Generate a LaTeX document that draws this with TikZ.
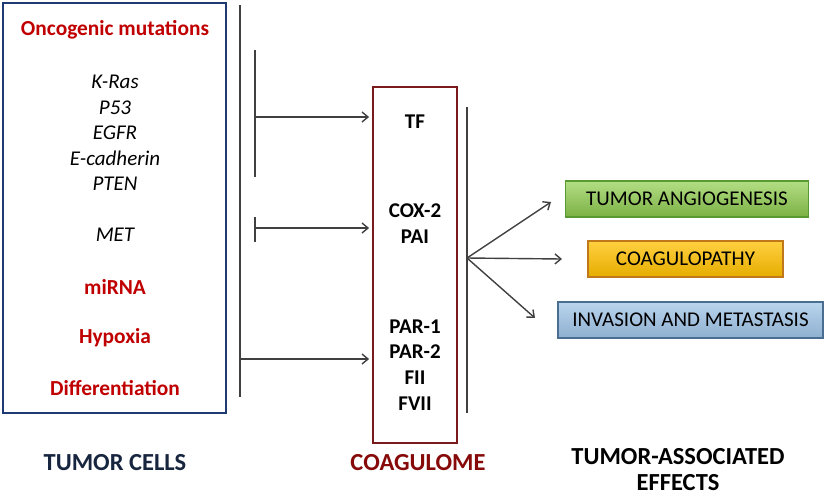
\documentclass[tikz,border=0pt]{standalone}
\usepackage{fontspec}
\setmainfont{Carlito}
\usetikzlibrary{arrows.meta}
\definecolor{darkred}{HTML}{C00000}
\definecolor{navy}{HTML}{1F3A73}
\definecolor{navytext}{HTML}{17253F}
\definecolor{coagred}{HTML}{7B1A1A}
\definecolor{coagtext}{HTML}{860A0A}
\definecolor{linegray}{HTML}{404040}
\definecolor{greenfill}{HTML}{92D050}
\definecolor{greenedge}{HTML}{5A9A32}
\definecolor{yellowfill}{HTML}{FFC000}
\definecolor{yellowedge}{HTML}{C0781A}
\definecolor{bluefill}{HTML}{9DC3E6}
\definecolor{blueedge}{HTML}{4A6E92}
\tikzset{
  redlbl/.style={text=darkred, font=\fontsize{21.4}{24}\selectfont\bfseries},
  genelbl/.style={font=\fontsize{21}{24}\selectfont\itshape},
  coaglbl/.style={font=\fontsize{21}{25.7}\selectfont\bfseries, align=center},
  conn/.style={draw=linegray, line width=1.4pt},
  arr/.style={conn, -{Straight Barb[length=6pt,width=10pt,line width=1.4pt]}},
  effbox/.style={draw, line width=1.6pt, font=\fontsize{21}{24}\selectfont, inner sep=0pt},
  titlelbl/.style={font=\fontsize{24.5}{26}\selectfont\bfseries, align=center}
}
\begin{document}
\begin{tikzpicture}[x=1pt,y=-1pt]
\useasboundingbox (0,0) rectangle (829,499);
% left box
\node[draw=navy, line width=2pt, minimum width=223pt, minimum height=410pt, inner sep=0pt] (tumorbox) at (114.5,208) {};
\node[redlbl] (onco) at (115,30) {Oncogenic mutations};
\node[genelbl] (kras) at (115,82) {K-Ras};
\node[genelbl] (p53) at (115,107.5) {P53};
\node[genelbl] (egfr) at (115,133) {EGFR};
\node[genelbl] (ecad) at (115,158.5) {E-cadherin};
\node[genelbl] (pten) at (115,184) {PTEN};
\node[genelbl] (met) at (115,235) {MET};
\node[redlbl] (mirna) at (115,287) {miRNA};
\node[redlbl] (hypoxia) at (115,338) {Hypoxia};
\node[redlbl] (diff) at (115,388) {Differentiation};
\node[titlelbl, text=navytext] (tumorcells) at (115,462.5) {TUMOR CELLS};
% coagulome box
\node[draw=coagred, line width=1.8pt, minimum width=84pt, minimum height=356pt, inner sep=0pt] (coag) at (415,265) {};
\node[coaglbl] (tf) at (415,122) {TF};
\node[coaglbl] (cox) at (415,223.5) {COX-2\\PAI};
\node[coaglbl] (par) at (415,365) {PAR-1\\PAR-2\\FII\\FVII};
\node[titlelbl, text=coagtext] (coaglabel) at (418,463) {COAGULOME};
% main vertical line
\coordinate (v1top) at (240,5);
\coordinate (v1bot) at (240,397);
\draw[conn] (v1top) -- (v1bot);
% bar 1
\coordinate (b1top) at (255,50);
\coordinate (b1bot) at (255,177);
\coordinate (b1mid) at (255,117);
\draw[conn] (b1top) -- (b1bot);
\draw[arr, shorten >=3pt] (b1mid) -- (coag.west |- b1mid);
% bar 2
\coordinate (b2top) at (255,217);
\coordinate (b2bot) at (255,242);
\coordinate (b2mid) at (255,228);
\draw[conn] (b2top) -- (b2bot);
\draw[arr, shorten >=3pt] (b2mid) -- (coag.west |- b2mid);
% lower arrow
\coordinate (v1mid) at (240,359);
\draw[arr, shorten >=3pt] (v1mid) -- (coag.west |- v1mid);
% right vertical
\coordinate (v2top) at (467,107);
\coordinate (v2bot) at (467,413);
\draw[conn] (v2top) -- (v2bot);
\coordinate (hub) at (467,258);
% effect boxes
\node[effbox, draw=greenedge, top color=greenfill!70!white, bottom color=greenfill!85!black, minimum width=243pt, minimum height=36pt] (angio) at (687,199) {TUMOR ANGIOGENESIS};
\node[effbox, draw=yellowedge, top color=yellowfill!75!white, bottom color=yellowfill!90!black, minimum width=195pt, minimum height=36pt] (coagpathy) at (685.5,259) {COAGULOPATHY};
\node[effbox, draw=blueedge, top color=bluefill!70!white, bottom color=bluefill!90!black, minimum width=265pt, minimum height=36pt] (invasion) at (690.5,320) {INVASION AND METASTASIS};
\coordinate (e1) at (551,202);
\coordinate (e2) at (562,259);
\coordinate (e3) at (535,318);
\draw[arr] (hub) -- (e1);
\draw[arr] (hub) -- (e2);
\draw[arr] (hub) -- (e3);
\node[titlelbl] (effects) at (678,470) {TUMOR-ASSOCIATED\\EFFECTS};
\end{tikzpicture}
\end{document}
